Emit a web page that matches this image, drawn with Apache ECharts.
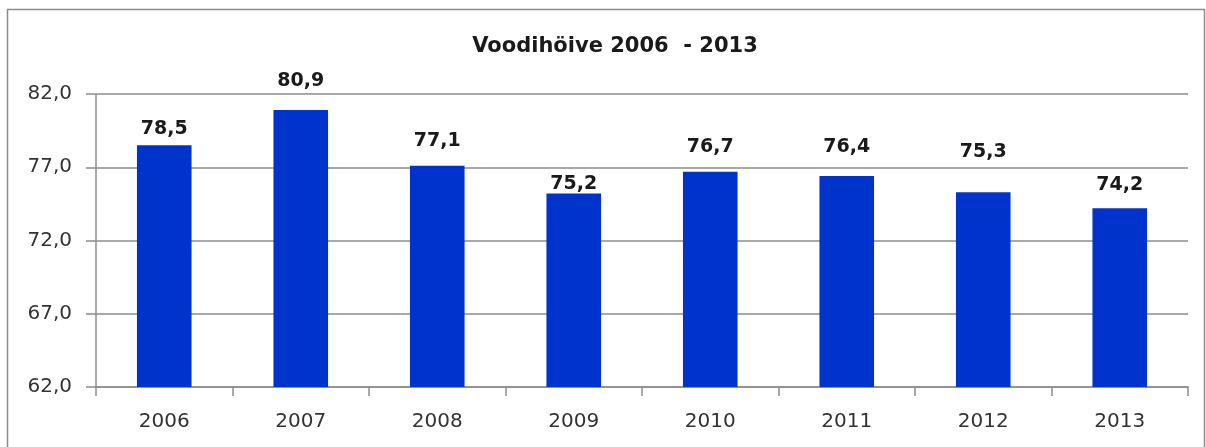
<!DOCTYPE html>
<html>
<head>
<meta charset="utf-8">
<script src="https://cdn.jsdelivr.net/npm/echarts@6/dist/echarts.min.js"></script>
<style>
  html, body { margin: 0; padding: 0; background: #fff; }
  #chart { width: 1206px; height: 447px; }
</style>
</head>
<body>
<div id="chart"></div>
<script>
// andmed
var years = ['2006', '2007', '2008', '2009', '2010', '2011', '2012', '2013'];
var occupancy = [78.5, 80.9, 77.1, 75.2, 76.7, 76.4, 75.3, 74.2];
var yMin = 62, yMax = 82, yStep = 5;

var fmt = function (v) { return Number(v).toFixed(1).replace('.', ','); };

// sildid on Excelis käsitsi paigutatud, seega igaühel oma vahe tulbast
var labelGap = [7, 20, 15, 0, 15, 19, 31, 14];

var barData = occupancy.map(function (v, i) {
  return { value: v, label: { distance: labelGap[i] } };
});

var chart = echarts.init(document.getElementById('chart'));
chart.setOption({
  animation: false,
  textStyle: { fontFamily: 'DejaVu Sans' },
  title: {
    text: 'Voodihöive 2006  - 2013',
    left: 610,
    top: 31,
    textAlign: 'center',
    textStyle: { fontSize: 21, fontWeight: 'bold', color: '#1a1a1a', fontFamily: 'DejaVu Sans' }
  },
  graphic: [{
    type: 'rect',
    shape: { x: 7.5, y: 9.5, width: 1197, height: 450 },
    style: { fill: 'none', stroke: '#8c8c8c', lineWidth: 1.5 }
  }],
  grid: { left: 96, right: 18, top: 94, bottom: 60 },
  xAxis: {
    type: 'category',
    data: years,
    axisLine: { lineStyle: { color: '#8c8c8c', width: 1.5 } },
    axisTick: { show: true, length: 9, lineStyle: { color: '#8c8c8c', width: 1.5 } },
    axisLabel: { color: '#333', fontSize: 20, margin: 25, fontFamily: 'DejaVu Sans' }
  },
  yAxis: {
    type: 'value',
    min: yMin,
    max: yMax,
    interval: yStep,
    axisLine: { show: true, lineStyle: { color: '#8c8c8c', width: 1.5 } },
    axisTick: { show: true, length: 10, lineStyle: { color: '#8c8c8c', width: 1.5 } },
    splitLine: { lineStyle: { color: '#8c8c8c', width: 1.5 } },
    axisLabel: { color: '#333', fontSize: 20, margin: 24, fontFamily: 'DejaVu Sans', formatter: fmt }
  },
  series: [{
    type: 'bar',
    data: barData,
    barWidth: '40%',
    itemStyle: { color: '#0033cc' },
    label: {
      show: true,
      position: 'top',
      fontSize: 19,
      fontWeight: 'bold',
      color: '#1a1a1a',
      fontFamily: 'DejaVu Sans',
      formatter: function (p) { return fmt(p.value); }
    }
  }]
});
</script>
</body>
</html>
